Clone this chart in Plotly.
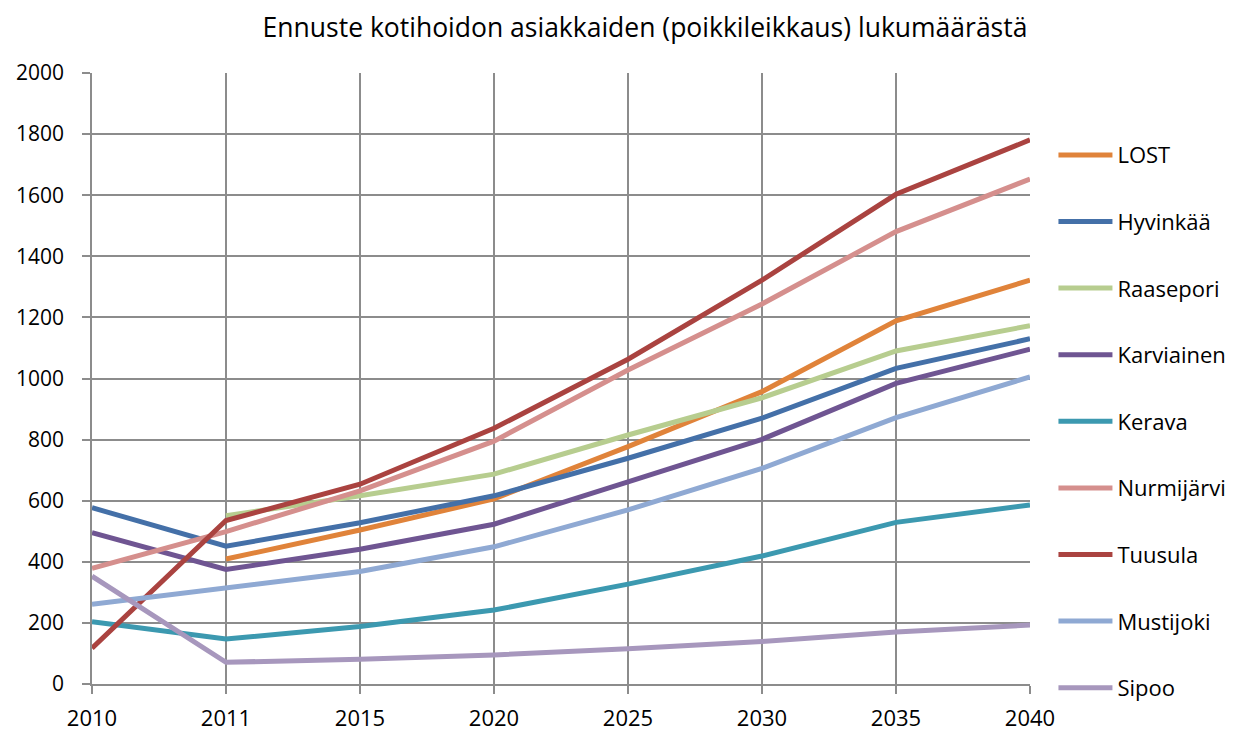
import plotly.graph_objects as go

years = ["2010", "2011", "2015", "2020", "2025", "2030", "2035", "2040"]

lost = [None, 409, 504, 606, 777, 957, 1189, 1322]
hyvinkaa = [577, 451, 528, 616, 739, 870, 1033, 1130]
raasepori = [None, 551, 616, 687, 815, 937, 1090, 1173]
karviainen = [495, 375, 441, 523, 662, 801, 984, 1096]
kerava = [204, 147, 188, 242, 327, 419, 529, 586]
nurmijarvi = [379, 499, 632, 795, 1028, 1244, 1481, 1653]
tuusula = [117, 535, 654, 837, 1063, 1322, 1603, 1781]
mustijoki = [261, 315, 368, 449, 570, 706, 872, 1005]
sipoo = [353, 71, 81, 95, 115, 139, 170, 193]

series_names = ["LOST", "Hyvinkää", "Raasepori", "Karviainen", "Kerava",
                "Nurmijärvi", "Tuusula", "Mustijoki", "Sipoo"]
series_values = [lost, hyvinkaa, raasepori, karviainen, kerava,
                 nurmijarvi, tuusula, mustijoki, sipoo]
colors = ["#E0833A", "#4470A8", "#B7CD8F", "#6F5592", "#3C99B0",
          "#D58F8D", "#AA4340", "#8FA9D3", "#A797BD"]

fig = go.Figure()
for name, vals, col in zip(series_names, series_values, colors):
    fig.add_trace(go.Scatter(
        x=years, y=vals, name=name, mode="lines",
        line=dict(color=col, width=5), legendgroup=name,
        connectgaps=False,
    ))

font_family = "Open Sans, Noto Sans, sans-serif"

# page body has an 8px default margin, so the figure is a little smaller
fig.update_layout(
    width=1226, height=724,
    paper_bgcolor="white", plot_bgcolor="white",
    margin=dict(l=84, r=204, t=65, b=48, autoexpand=False),
    title=dict(text="Ennuste kotihoidon asiakkaiden (poikkileikkaus) lukumäärästä",
               x=(645 - 8) / 1226, xanchor="center", xref="container",
               y=1 - 20 / 724, yanchor="middle", yref="container",
               font=dict(family=font_family, size=26.5, color="black")),
    font=dict(family=font_family, color="black"),
    showlegend=True,
    legend=dict(x=1.025, xanchor="left", y=0.9, yanchor="top",
                font=dict(size=22, color="black"), itemwidth=54,
                tracegroupgap=35, bgcolor="rgba(0,0,0,0)"),
    xaxis=dict(type="category", range=[0, 7], showgrid=True,
               gridcolor="#8C8C8C", gridwidth=1.5,
               showline=True, linecolor="#8C8C8C", linewidth=1.5,
               ticks="outside", ticklen=8, tickcolor="#8C8C8C", tickwidth=1.5,
               ticklabelstandoff=6,
               tickfont=dict(size=22, color="black"), zeroline=False),
    yaxis=dict(range=[0, 2000], dtick=200, showgrid=True,
               gridcolor="#8C8C8C", gridwidth=1.5,
               showline=True, linecolor="#8C8C8C", linewidth=1.5,
               ticks="outside", ticklen=8, tickcolor="#8C8C8C", tickwidth=1.5,
               ticklabelstandoff=14,
               tickfont=dict(size=21, color="black"), zeroline=False),
)

fig.write_html("out.html")
